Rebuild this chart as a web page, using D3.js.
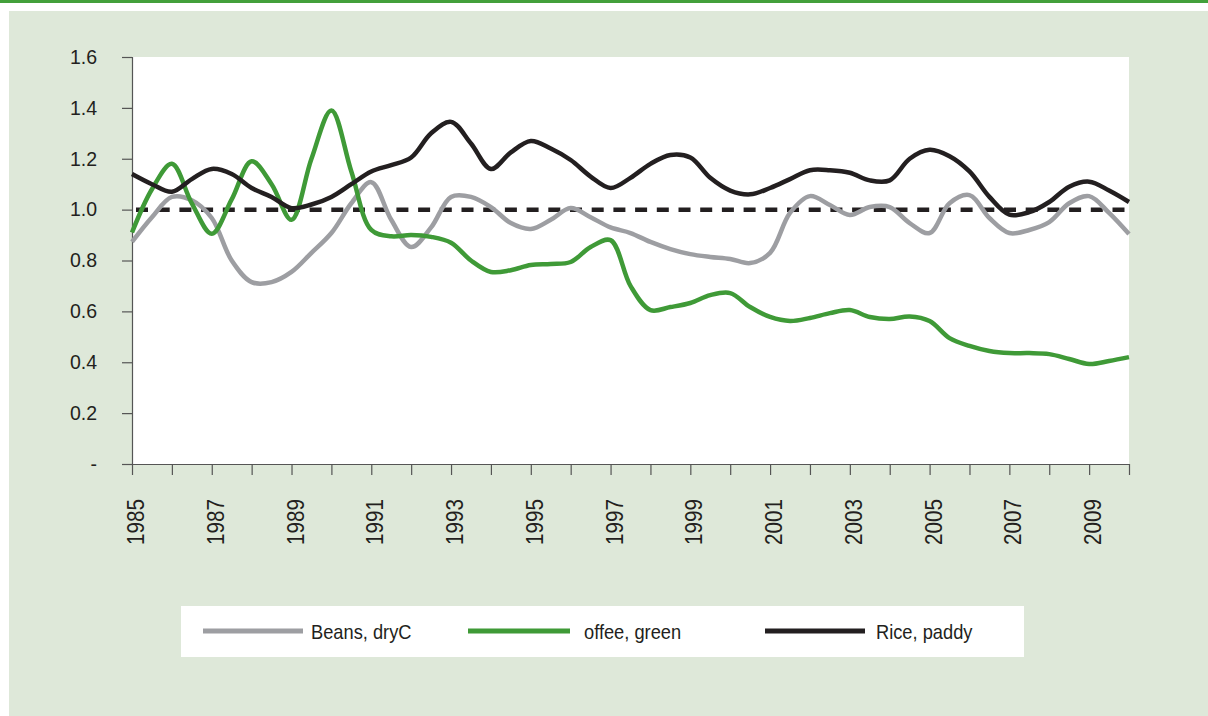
<!DOCTYPE html>
<html>
<head>
<meta charset="utf-8">
<script src="https://cdn.jsdelivr.net/npm/d3@7"></script>
<style>
  html, body { margin: 0; padding: 0; background: #ffffff; }
  svg { display: block; font-family: "Liberation Sans", Arial, sans-serif; }
</style>
</head>
<body>
<svg id="chart" width="1208" height="716"></svg>
<script>
// ---- data ----
const periods = [1985, 1985.5, 1986, 1986.5, 1987, 1987.5, 1988, 1988.5, 1989, 1989.5,
  1990, 1990.5, 1991, 1991.5, 1992, 1992.5, 1993, 1993.5, 1994, 1994.5,
  1995, 1995.5, 1996, 1996.5, 1997, 1997.5, 1998, 1998.5, 1999, 1999.5,
  2000, 2000.5, 2001, 2001.5, 2002, 2002.5, 2003, 2003.5, 2004, 2004.5,
  2005, 2005.5, 2006, 2006.5, 2007, 2007.5, 2008, 2008.5, 2009, 2009.5, 2010];

const beans = [0.873, 0.97, 1.05, 1.037, 0.967, 0.80, 0.715, 0.715, 0.755, 0.83,
  0.908, 1.025, 1.108, 0.96, 0.853, 0.93, 1.05, 1.05, 1.01, 0.947,
  0.924, 0.96, 1.006, 0.97, 0.93, 0.908, 0.873, 0.845, 0.825, 0.814,
  0.806, 0.79, 0.83, 0.987, 1.053, 1.018, 0.979, 1.01, 1.01, 0.947,
  0.908, 1.025, 1.057, 0.967, 0.908, 0.92, 0.951, 1.025, 1.053, 0.987, 0.904];

const coffee = [0.91, 1.08, 1.18, 1.025, 0.905, 1.04, 1.19, 1.10, 0.96, 1.2,
  1.39, 1.15, 0.92, 0.895, 0.90, 0.893, 0.87, 0.80, 0.755, 0.762,
  0.782, 0.786, 0.794, 0.853, 0.88, 0.70, 0.605, 0.617, 0.633, 0.664,
  0.672, 0.617, 0.578, 0.562, 0.574, 0.593, 0.605, 0.578, 0.57, 0.58,
  0.562, 0.495, 0.464, 0.444, 0.436, 0.436, 0.432, 0.413, 0.393, 0.405, 0.42];

const rice = [1.14, 1.10, 1.07, 1.12, 1.16, 1.14, 1.085, 1.05, 1.006, 1.02,
  1.05, 1.10, 1.15, 1.175, 1.205, 1.30, 1.345, 1.26, 1.16, 1.225,
  1.27, 1.24, 1.195, 1.13, 1.085, 1.125, 1.18, 1.215, 1.205, 1.125,
  1.075, 1.06, 1.085, 1.12, 1.155, 1.155, 1.145, 1.115, 1.115, 1.20,
  1.235, 1.21, 1.15, 1.05, 0.98, 0.99, 1.03, 1.09, 1.11, 1.075, 1.03];

const referenceLevel = 1.0;

const seriesNames = ["Beans, dryC", "offee, green", "Rice, paddy"];
const seriesColors = ["#9d9ea2", "#3f9a37", "#231f20"];

const yTickValues = [0, 0.2, 0.4, 0.6, 0.8, 1.0, 1.2, 1.4, 1.6];
const yTickLabels = ["-", "0.2", "0.4", "0.6", "0.8", "1.0", "1.2", "1.4", "1.6"];
const xTickYears = [1985, 1986, 1987, 1988, 1989, 1990, 1991, 1992, 1993, 1994, 1995, 1996,
  1997, 1998, 1999, 2000, 2001, 2002, 2003, 2004, 2005, 2006, 2007, 2008, 2009, 2010];
const xLabelYears = [1985, 1987, 1989, 1991, 1993, 1995, 1997, 1999, 2001, 2003, 2005, 2007, 2009];

// ---- layout ----
const svg = d3.select("#chart");
const plot = { left: 132, right: 1129, top: 57, bottom: 464 };

// background pieces
svg.append("rect").attr("x", 0).attr("y", 0).attr("width", 1208).attr("height", 3).attr("fill", "#43a03b");
svg.append("rect").attr("x", 9).attr("y", 11).attr("width", 1199).attr("height", 705).attr("fill", "#dee8d9");
svg.append("rect").attr("x", plot.left).attr("y", plot.top)
  .attr("width", plot.right - plot.left).attr("height", plot.bottom - plot.top).attr("fill", "#ffffff");

const x = d3.scaleLinear().domain([1985, 2010]).range([plot.left, plot.right]);
const y = d3.scaleLinear().domain([0, 1.6]).range([plot.bottom, plot.top]);

// y axis
const yAxis = d3.axisLeft(y).tickValues(yTickValues)
  .tickFormat((d, i) => yTickLabels[i]).tickSize(10).tickPadding(25);
const gy = svg.append("g").attr("transform", `translate(${plot.left},0)`).call(yAxis);
gy.select(".domain").attr("stroke", "#555").attr("stroke-width", 1.2);
gy.selectAll(".tick line").attr("stroke", "#555").attr("stroke-width", 1.2);
gy.selectAll(".tick text").attr("font-size", 19.5).attr("fill", "#231f20")
  .attr("font-family", "'Liberation Sans', Arial, sans-serif");

// x axis
const xAxis = d3.axisBottom(x).tickValues(xTickYears).tickFormat("").tickSize(11).tickSizeOuter(0);
const gx = svg.append("g").attr("transform", `translate(0,${plot.bottom})`).call(xAxis);
gx.select(".domain").attr("stroke", "#555").attr("stroke-width", 1.2)
  .attr("d", `M${plot.left - 10},0.5H${plot.right}`);
gx.selectAll(".tick line").attr("stroke", "#555").attr("stroke-width", 1.2);

svg.append("g").selectAll("text").data(xLabelYears).join("text")
  .attr("transform", d => `translate(${x(d) + 12},499) rotate(-90) scale(0.9,1)`)
  .attr("text-anchor", "end")
  .attr("font-size", 23)
  .attr("fill", "#231f20")
  .text(d => d);

// reference line at 1.0
svg.append("line")
  .attr("x1", x(1985)).attr("x2", x(2010))
  .attr("y1", y(referenceLevel)).attr("y2", y(referenceLevel))
  .attr("stroke", "#231f20").attr("stroke-width", 4.5)
  .attr("stroke-dasharray", "12,9.7").attr("stroke-dashoffset", 17.7);

// series lines
const line = d3.line().x(d => x(d[0])).y(d => y(d[1])).curve(d3.curveCatmullRom.alpha(0.5));
const allSeries = [beans, coffee, rice];
allSeries.forEach((vals, i) => {
  svg.append("path")
    .datum(periods.map((p, j) => [p, vals[j]]))
    .attr("d", line)
    .attr("fill", "none")
    .attr("stroke", seriesColors[i])
    .attr("stroke-width", 4.5)
    .attr("stroke-linejoin", "round")
    .attr("stroke-linecap", "butt");
});

// legend
const legend = svg.append("g");
legend.append("rect").attr("x", 181).attr("y", 606).attr("width", 843).attr("height", 51).attr("fill", "#ffffff");
const legendItems = [
  { x1: 203, x2: 303, tx: 311 },
  { x1: 468, x2: 570, tx: 584 },
  { x1: 765, x2: 865, tx: 876 }
];
legendItems.forEach((it, i) => {
  legend.append("line").attr("x1", it.x1).attr("x2", it.x2).attr("y1", 631).attr("y2", 631)
    .attr("stroke", seriesColors[i]).attr("stroke-width", 5);
  legend.append("text").attr("x", it.tx).attr("y", 639)
    .attr("font-size", 21).attr("fill", "#231f20")
    .attr("transform", `translate(${it.tx},0) scale(0.87,1) translate(${-it.tx},0)`)
    .text(seriesNames[i]);
});
</script>
</body>
</html>
